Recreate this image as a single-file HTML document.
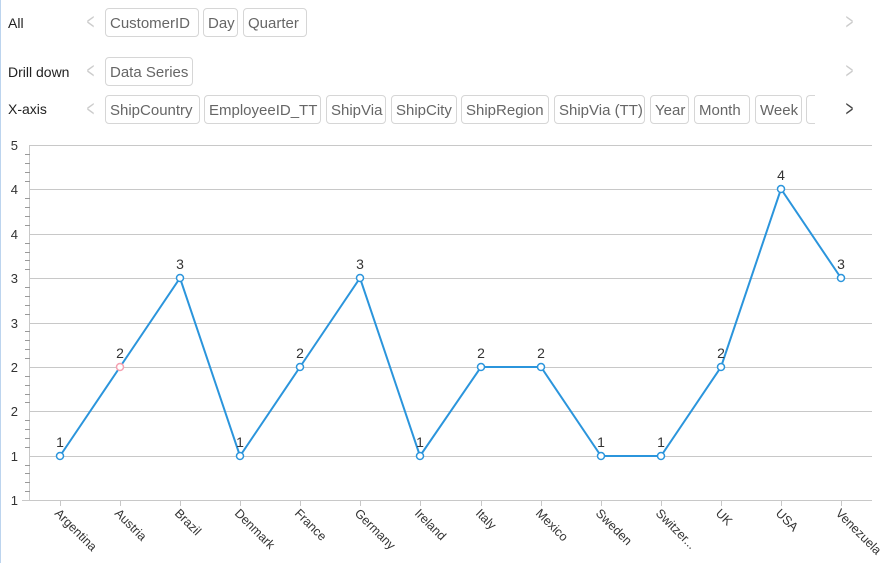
<!DOCTYPE html>
<html><head><meta charset="utf-8"><style>
body{margin:0;width:883px;height:563px;background:#fff;overflow:hidden;font-family:"Liberation Sans","DejaVu Sans",sans-serif;position:relative}
.bl{position:absolute;left:0;top:0;width:1px;height:563px;background:#bcd4ee}
.lab{position:absolute;left:8px;font-size:14px;color:#222}
.chip{position:absolute;height:29px;line-height:30px;border:1px solid #d6d6d6;border-radius:4px;padding:0 4px;font-size:15px;color:#666;box-sizing:border-box;white-space:nowrap;overflow:hidden}
.chev{position:absolute;font-size:22px;color:#ccc;transform:scaleX(0.6)}
</style></head><body>
<div class="bl"></div>
<div class="lab" style="top:15px">All</div>
<div class="lab" style="top:64px">Drill down</div>
<div class="lab" style="top:101px">X-axis</div>
<div class="chev" style="left:84px;top:9px">&lt;</div>
<div class="chev" style="left:84px;top:58px">&lt;</div>
<div class="chev" style="left:84px;top:96px">&lt;</div>
<div class="chev" style="left:843px;top:9px">&gt;</div>
<div class="chev" style="left:843px;top:58px">&gt;</div>
<div class="chev" style="left:843px;top:96px;color:#444">&gt;</div>
<div class="chip" style="left:105px;top:8px;width:94px">CustomerID</div>
<div class="chip" style="left:203px;top:8px;width:35px">Day</div>
<div class="chip" style="left:243px;top:8px;width:64px">Quarter</div>
<div class="chip" style="left:105px;top:57px;width:88px">Data Series</div>
<div class="chip" style="left:105px;top:95px;width:95px">ShipCountry</div>
<div class="chip" style="left:204px;top:95px;width:117px">EmployeeID_TT</div>
<div class="chip" style="left:326px;top:95px;width:60px">ShipVia</div>
<div class="chip" style="left:391px;top:95px;width:66px">ShipCity</div>
<div class="chip" style="left:461px;top:95px;width:88px">ShipRegion</div>
<div class="chip" style="left:554px;top:95px;width:91px">ShipVia (TT)</div>
<div class="chip" style="left:650px;top:95px;width:39px">Year</div>
<div class="chip" style="left:694px;top:95px;width:56px">Month</div>
<div class="chip" style="left:755px;top:95px;width:47px">Week</div>
<div class="chip" style="left:806px;top:95px;width:3px;border-right:none;border-radius:4px 0 0 4px"></div>
<svg width="883" height="563" style="position:absolute;left:0;top:0" font-family="Liberation Sans, DejaVu Sans, sans-serif">
<g stroke="#c8c8c8" stroke-width="1">
<line x1="30" y1="145.5" x2="872" y2="145.5"/><line x1="30" y1="189.5" x2="872" y2="189.5"/>
<line x1="30" y1="234.5" x2="872" y2="234.5"/><line x1="30" y1="278.5" x2="872" y2="278.5"/>
<line x1="30" y1="323.5" x2="872" y2="323.5"/><line x1="30" y1="367.5" x2="872" y2="367.5"/>
<line x1="30" y1="411.5" x2="872" y2="411.5"/><line x1="30" y1="456.5" x2="872" y2="456.5"/>
<line x1="22" y1="500.5" x2="872" y2="500.5"/>
<line x1="29.5" y1="145" x2="29.5" y2="500"/>
</g>
<g stroke="#999" stroke-width="1" id="ticks"></g>
<g font-size="13" fill="#333" text-anchor="end">
<text x="18" y="150">5</text><text x="18" y="194">4</text><text x="18" y="239">4</text><text x="18" y="283">3</text><text x="18" y="328">3</text><text x="18" y="372">2</text><text x="18" y="416">2</text><text x="18" y="461">1</text><text x="18" y="505">1</text>
</g>
<polyline fill="none" stroke="#2b95dc" stroke-width="2" points="60,456 120,367 180,278 240,456 300,367 360,278 420,456 481,367 541,367 601,456 661,456 721,367 781,189 841,278"/>
<g fill="#fff" stroke="#2b95dc" stroke-width="1.5">
<circle cx="60" cy="456" r="3.5"/><circle cx="120" cy="367" r="3.5" stroke="#f4a0b0"/><circle cx="180" cy="278" r="3.5"/><circle cx="240" cy="456" r="3.5"/><circle cx="300" cy="367" r="3.5"/><circle cx="360" cy="278" r="3.5"/><circle cx="420" cy="456" r="3.5"/><circle cx="481" cy="367" r="3.5"/><circle cx="541" cy="367" r="3.5"/><circle cx="601" cy="456" r="3.5"/><circle cx="661" cy="456" r="3.5"/><circle cx="721" cy="367" r="3.5"/><circle cx="781" cy="189" r="3.5"/><circle cx="841" cy="278" r="3.5"/>
</g>
<g font-size="14" fill="#333" text-anchor="middle">
<text x="60" y="447">1</text><text x="120" y="358">2</text><text x="180" y="269">3</text><text x="240" y="447">1</text><text x="300" y="358">2</text><text x="360" y="269">3</text><text x="420" y="447">1</text><text x="481" y="358">2</text><text x="541" y="358">2</text><text x="601" y="447">1</text><text x="661" y="447">1</text><text x="721" y="358">2</text><text x="781" y="180">4</text><text x="841" y="269">3</text>
</g>
<g font-size="12.5" fill="#333">
<text transform="translate(54,514) rotate(45)">Argentina</text>
<text transform="translate(114,514) rotate(45)">Austria</text>
<text transform="translate(174,514) rotate(45)">Brazil</text>
<text transform="translate(234,514) rotate(45)">Denmark</text>
<text transform="translate(294,514) rotate(45)">France</text>
<text transform="translate(354,514) rotate(45)">Germany</text>
<text transform="translate(414,514) rotate(45)">Ireland</text>
<text transform="translate(475,514) rotate(45)">Italy</text>
<text transform="translate(535,514) rotate(45)">Mexico</text>
<text transform="translate(595,514) rotate(45)">Sweden</text>
<text transform="translate(655,514) rotate(45)">Switzer...</text>
<text transform="translate(715,514) rotate(45)">UK</text>
<text transform="translate(775,514) rotate(45)">USA</text>
<text transform="translate(835,514) rotate(45)">Venezuela</text>
</g>
<g stroke="#c8c8c8">
<line x1="60.5" y1="500" x2="60.5" y2="506"/><line x1="120.5" y1="500" x2="120.5" y2="506"/><line x1="180.5" y1="500" x2="180.5" y2="506"/><line x1="240.5" y1="500" x2="240.5" y2="506"/><line x1="300.5" y1="500" x2="300.5" y2="506"/><line x1="360.5" y1="500" x2="360.5" y2="506"/><line x1="420.5" y1="500" x2="420.5" y2="506"/><line x1="481.5" y1="500" x2="481.5" y2="506"/><line x1="541.5" y1="500" x2="541.5" y2="506"/><line x1="601.5" y1="500" x2="601.5" y2="506"/><line x1="661.5" y1="500" x2="661.5" y2="506"/><line x1="721.5" y1="500" x2="721.5" y2="506"/><line x1="781.5" y1="500" x2="781.5" y2="506"/><line x1="841.5" y1="500" x2="841.5" y2="506"/>
</g>
</svg>
<script>
var g=document.getElementById('ticks'),s='';
for(var i=0;i<=40;i++){var y=145+i*355/40;if(i%5)s+='<line x1="25" x2="30" y1="'+(Math.round(y)+.5)+'" y2="'+(Math.round(y)+.5)+'"/>';}
g.innerHTML=s;
</script>
</body></html>
